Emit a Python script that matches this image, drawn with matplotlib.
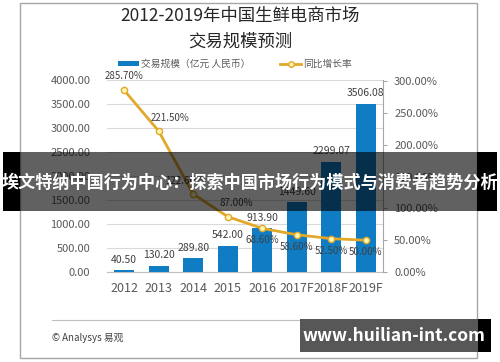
import matplotlib
matplotlib.use("Agg")
import matplotlib.pyplot as plt
from matplotlib.patches import Rectangle
from matplotlib.lines import Line2D

plt.rcParams['font.family'] = ['Noto Sans CJK SC', 'DejaVu Sans']

years = ['2012', '2013', '2014', '2015', '2016', '2017F', '2018F', '2019F']
scale = [40.50, 130.20, 289.80, 542.00, 913.90, 1449.60, 2299.07, 3506.08]
growth = [285.70, 221.50, 122.60, 87.00, 68.60, 58.60, 52.50, 50.00]
left_ticks = [0, 500, 1000, 1500, 2000, 2500, 3000, 3500, 4000]
right_ticks = [0, 50, 100, 150, 200, 250, 300]

bar_c = '#0f7cc4'
line_c = '#e2a82a'
txt_c = '#595959'

fig = plt.figure(figsize=(5.0, 3.62), dpi=100)
W, H = 500, 362

def fx(px):
    return px / W

def fy(py):
    return 1 - py / H

# outer frame
fig.patches.append(Rectangle((fx(20), fy(358)), fx(457), 355 / H, transform=fig.transFigure,
                             fill=False, edgecolor='#a6a6a6', lw=1.0))

ax = fig.add_axes([fx(107), fy(272), fx(276), (272 - 80) / H])
ax2 = ax.twinx()
ax.set_zorder(1)
ax2.set_zorder(2)
ax.patch.set_visible(False)

x = list(range(len(years)))
ax.bar(x, scale, width=0.57, color=bar_c, zorder=3)
ax.set_xlim(-0.5, len(years) - 0.5)
ax.set_ylim(0, 4000)
ax.set_yticks(left_ticks)
ax.set_yticklabels(['%.2f' % v for v in left_ticks])
ax.set_xticks(x)
ax.set_xticklabels(years)
ax.tick_params(axis='y', length=0, pad=12, labelsize=8, labelcolor=txt_c)
ax.tick_params(axis='x', length=0, pad=7, labelsize=9, labelcolor=txt_c)
ax.grid(axis='y', color='#d9d9d9', lw=0.8, zorder=0)
for s in ['top', 'right', 'left']:
    ax.spines[s].set_visible(False)
ax.spines['bottom'].set_color('#bfbfbf')

for i, v in enumerate(scale):
    ax.annotate('%.2f' % v, (i, v), xytext=(0, 4), textcoords='offset points',
                ha='center', va='bottom', fontsize=7.5, color='#404040', zorder=5)

ax2.plot(x, growth, color=line_c, lw=2, marker='o', markersize=4.5,
         markerfacecolor='#fdf6b5', markeredgecolor=line_c, markeredgewidth=1, zorder=4)
ax2.set_ylim(0, 302)
ax2.set_yticks(right_ticks)
ax2.set_yticklabels(['%.2f%%' % v for v in right_ticks])
ax2.tick_params(axis='y', length=3, pad=5, labelsize=8, labelcolor=txt_c, color='#a6a6a6')
for s in ['top', 'left', 'bottom']:
    ax2.spines[s].set_visible(False)
ax2.spines['right'].set_color('#a6a6a6')

offsets = [(0, 7), (8, 6), (-6, 6), (6, 6), (0, -5), (0, -5), (0, -5), (0, -5)]
for i, v in enumerate(growth):
    dx, dy = offsets[i]
    ax2.annotate('%.2f%%' % v, (i, v), xytext=(dx, dy), textcoords='offset points',
                 ha='center', va='bottom' if dy > 0 else 'top', fontsize=7,
                 color='#404040', zorder=6)

# titles
fig.text(fx(240), fy(16), '2012-2019年中国生鲜电商市场', ha='center', va='center',
         fontsize=12.5, color='#262626')
fig.text(fx(240), fy(42), '交易规模预测', ha='center', va='center',
         fontsize=12.5, color='#262626')

# legend
h1 = Rectangle((0, 0), 1, 1, facecolor=bar_c)
h2 = Line2D([], [], color=line_c, lw=2, marker='o', markersize=4,
            markerfacecolor='#fdf6b5', markeredgecolor=line_c)
fig.legend([h1, h2], ['交易规模（亿元 人民币）', '同比增长率'], ncol=2,
           loc='center', bbox_to_anchor=(fx(235), fy(64)), frameon=False,
           fontsize=7, handlelength=2.2, handleheight=0.5, columnspacing=3.0,
           handletextpad=0.2, labelcolor=txt_c)

# footer
fig.add_artist(Line2D([fx(52), fx(443)], [fy(320), fy(320)], transform=fig.transFigure,
                      color='#bfbfbf', lw=0.8))
fig.text(fx(52), fy(338), '© Analysys 易观', ha='left', va='center', fontsize=7, color='#404040')

# banner overlay
fig.patches.append(Rectangle((fx(3), fy(211)), fx(17), 59 / H, transform=fig.transFigure,
                             facecolor='black', edgecolor='none', zorder=10))
fig.patches.append(Rectangle((fx(477), fy(211)), fx(20), 59 / H, transform=fig.transFigure,
                             facecolor='black', edgecolor='none', zorder=10))
fig.patches.append(Rectangle((fx(20), fy(211)), fx(457), 59 / H, transform=fig.transFigure,
                             facecolor='black', alpha=0.62, edgecolor='none', zorder=10))
fig.text(fx(250), fy(182), '埃文特纳中国行为中心：探索中国市场行为模式与消费者趋势分析',
         ha='center', va='center', fontsize=12.3, color='white', fontweight='bold', zorder=11)

# site label box
fig.patches.append(Rectangle((fx(300), fy(352)), fx(178), 33 / H, transform=fig.transFigure,
                             facecolor='#575757', edgecolor='none', zorder=10))
fig.patches.append(Rectangle((fx(478), fy(352)), fx(13), 33 / H, transform=fig.transFigure,
                             facecolor='black', edgecolor='none', zorder=10))
fig.text(fx(394), fy(336), 'www.huilian-int.com', ha='center', va='center',
         fontsize=12.5, color='white', fontweight='bold', zorder=11)

fig.savefig('out.png', dpi=100)
